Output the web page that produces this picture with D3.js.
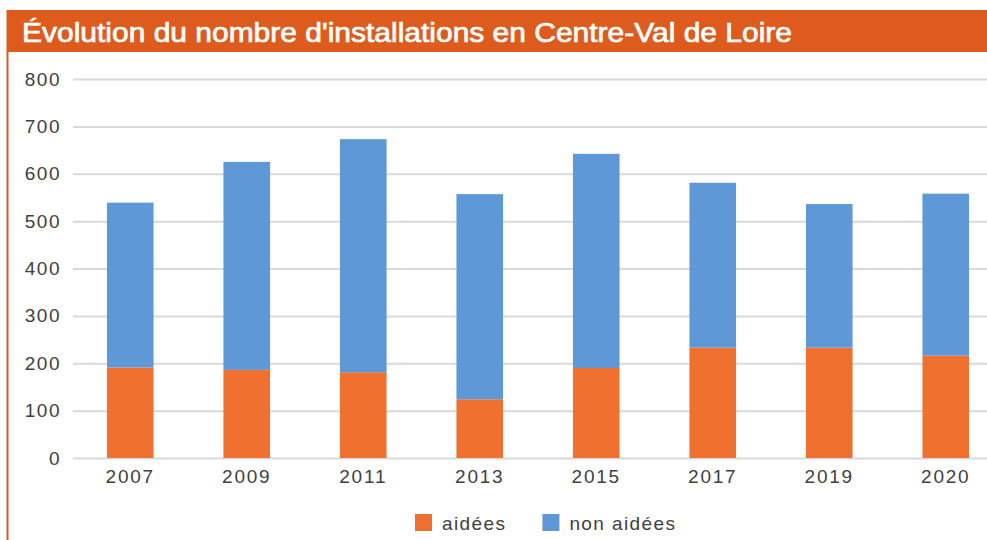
<!DOCTYPE html>
<html>
<head>
<meta charset="utf-8">
<script src="https://cdn.jsdelivr.net/npm/d3@7"></script>
<style>
	body { margin: 0; background: #fff; }
	text { font-family: "Liberation Sans", Arial, sans-serif; }
</style>
</head>
<body>
<div id="chart"></div>
<script>

// years on the x axis
const years = ["2007", "2009", "2011", "2013", "2015", "2017", "2019", "2020"];
// installations with aid
const aidees = [191, 186, 181, 124, 190, 233, 233, 216];
// installations without aid
const nonAidees = [348, 439, 492, 433, 452, 348, 303, 342];
// y axis ticks
const yTicks = [0, 100, 200, 300, 400, 500, 600, 700, 800];
const seriesNames = ["aidées", "non aidées"];
const title = "Évolution du nombre d'installations en Centre-Val de Loire";

const width = 987;
const height = 540;
const colors = { "aidées": "#f07030", "non aidées": "#5f98d7" };
const labelFont = '"Liberation Sans", Arial, sans-serif';

const svg = d3.select('#chart')
	.append('svg')
		.attr('width', width)
		.attr('height', height);

// frame : title band and left border
svg.append('rect')
	.attr('x', 7).attr('y', 10)
	.attr('width', width - 7).attr('height', 42)
	.attr('fill', '#de5b1e');

svg.append('line')
	.attr('x1', 7.5).attr('x2', 7.5)
	.attr('y1', 10).attr('y2', height)
	.attr('stroke', '#de5b1e')
	.attr('stroke-width', 2);

// title, regular weight thickened a little with a thin stroke
svg.append('text')
	.attr('x', 22).attr('y', 42)
	.attr('fill', '#fff')
	.attr('stroke', '#fff')
	.attr('stroke-width', 0.7)
	.attr('font-size', 27)
	.attr('font-family', 'Roboto, "Liberation Sans", sans-serif')
	.attr('textLength', 770)
	.attr('lengthAdjust', 'spacingAndGlyphs')
	.text(title);

// scales
const x = d3.scaleBand()
	.domain(years)
	.range([72, 1004])
	.paddingInner(0.6)
	.paddingOuter(0.3);

const y = d3.scaleLinear()
	.domain([0, 800])
	.range([458, 79]);

// gridlines + y labels
const yAxis = d3.axisLeft(y)
	.tickValues(yTicks)
	.tickSize(-(width - 73))
	.tickPadding(12);

const gy = svg.append('g')
	.attr('transform', 'translate(73, 0)')
	.call(yAxis);

gy.select('.domain').remove();
gy.selectAll('.tick line')
	.attr('stroke', '#d9d9d9')
	.attr('stroke-width', 2);
gy.selectAll('.tick text')
	.attr('font-size', 19)
	.attr('letter-spacing', 1.5)
	.attr('fill', '#404040')
	.attr('font-family', labelFont);

// stacked bars
const rows = years.map((yr, i) => ({ year: yr, "aidées": aidees[i], "non aidées": nonAidees[i] }));
const stacked = d3.stack().keys(seriesNames)(rows);

svg.append('g')
	.selectAll('g')
	.data(stacked).enter()
	.append('g')
		.attr('fill', d => colors[d.key])
	.selectAll('rect')
	.data(d => d).enter()
	.append('rect')
		.attr('x', d => x(d.data.year))
		.attr('width', x.bandwidth())
		.attr('y', d => y(d[1]))
		.attr('height', d => y(d[0]) - y(d[1]));

// x labels
const xAxis = d3.axisBottom(x).tickSize(0).tickPadding(12);
const gx = svg.append('g')
	.attr('transform', 'translate(0, 458)')
	.call(xAxis);
gx.select('.domain').remove();
gx.selectAll('.tick text')
	.attr('font-size', 19)
	.attr('letter-spacing', 1.8)
	.attr('fill', '#404040')
	.attr('font-family', labelFont);

// legend
const legend = svg.append('g');
let lx = 415;
seriesNames.forEach(name => {
	legend.append('rect')
		.attr('x', lx).attr('y', 514)
		.attr('width', 17).attr('height', 17)
		.attr('fill', colors[name]);
	const t = legend.append('text')
		.attr('x', lx + 27).attr('y', 530)
		.attr('font-size', 19)
		.attr('letter-spacing', 1.4)
		.attr('fill', '#404040')
		.text(name);
	lx += 27 + t.node().getComputedTextLength() + 36;
});

</script>
</body>
</html>
